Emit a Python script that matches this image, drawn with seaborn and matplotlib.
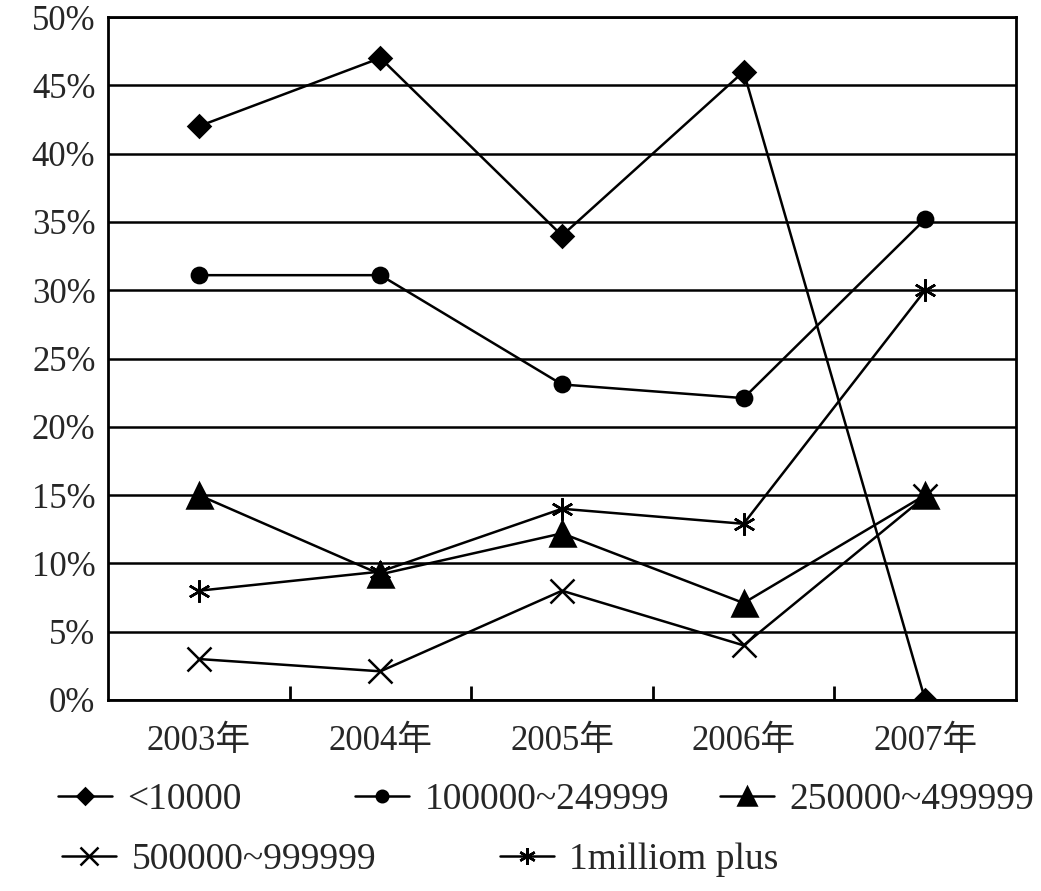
import matplotlib
matplotlib.use("Agg")
import matplotlib.pyplot as plt
import seaborn as sns
import pandas as pd
from matplotlib.ticker import FixedLocator

years = ["2003年", "2004年", "2005年", "2006年", "2007年"]
series_names = ["<10000", "100000~249999", "250000~499999", "500000~999999", "1milliom plus"]
s_lt10000 = [42, 47, 34, 46, 0]
s_100k_250k = [31.1, 31.1, 23.1, 22.1, 35.2]
s_250k_500k = [15, 9.2, 12.2, 7.1, 15]
s_500k_1m = [3, 2.1, 8, 4, 14.9]
s_1m_plus = [8, 9.4, 14, 12.9, 30]

values = [s_lt10000, s_100k_250k, s_250k_500k, s_500k_1m, s_1m_plus]
markers = ["D", "o", "^", "x", (6, 2, 0)]
msizes = [11, 11, 18, 17, 16]

df = pd.DataFrame({
    "year": years * len(series_names),
    "series": [n for n in series_names for _ in years],
    "value": [v for vals in values for v in vals],
})

sns.set_style("white")
plt.rcParams["font.family"] = ["Liberation Serif", "Noto Sans CJK SC", "DejaVu Sans"]

fig = plt.figure(figsize=(10.41, 8.91), dpi=100)
ax = fig.add_axes([108 / 1041, 1 - 700 / 891, (1016 - 108) / 1041, (700 - 17) / 891])

for name, mk, ms in zip(series_names, markers, msizes):
    sub = df[df["series"] == name]
    sns.lineplot(data=sub, x="year", y="value", ax=ax, color="black", linewidth=1.8,
                 marker=mk, markersize=ms, markeredgecolor="black", markerfacecolor="black",
                 markeredgewidth=1.8, label=name, legend=False, zorder=3)

ax.set_xlim(-0.5, 4.5)
ax.set_ylim(0, 50)
ax.set_yticks(range(0, 51, 5))
ax.set_yticklabels([f"{v}%" for v in range(0, 51, 5)])
ax.yaxis.grid(True, color="black", linewidth=1.8)
ax.xaxis.grid(False)
ax.set_axisbelow(True)
ax.set_xlabel("")
ax.set_ylabel("")
for sp in ax.spines.values():
    sp.set_color("black")
    sp.set_linewidth(2.0)

ax.tick_params(axis="y", length=0, pad=9, labelsize=25)
ax.tick_params(axis="x", which="major", length=0, pad=18, labelsize=25)
ax.xaxis.set_minor_locator(FixedLocator([0.5, 1.5, 2.5, 3.5]))
ax.tick_params(axis="x", which="minor", direction="in", length=10, width=2.0, color="black", bottom=True)

h_by = {}
for h in ax.get_lines():
    lab = h.get_label()
    if lab in series_names:
        h_by[lab] = h

leg_kw = dict(frameon=False, fontsize=27, handlelength=1.45, handletextpad=0.4,
              markerscale=0.75, borderpad=0, borderaxespad=0, loc="center left")
leg_pos = [(58, 800), (355, 800), (720, 800), (62, 860), (500, 860)]
for name, (px, py) in zip(series_names, leg_pos):
    fig.legend([h_by[name]], [name], bbox_to_anchor=(px / 1041, 1 - py / 891), **leg_kw)

fig.savefig("out.png", dpi=100, facecolor="white")
